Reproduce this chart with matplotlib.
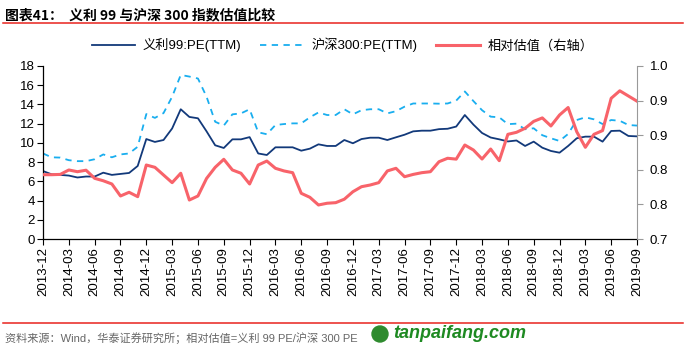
import matplotlib
matplotlib.use("Agg")
import matplotlib.pyplot as plt
from matplotlib.patches import Circle
from matplotlib.ticker import FormatStrFormatter
import numpy as np
import pandas as pd

# ------------------------------
# 数据 (月度, 2013-12 ~ 2019-09)
# ------------------------------
months = pd.date_range("2013-12-01", "2019-09-01", freq="MS").strftime("%Y-%m").tolist()

yili_pe = [7.07, 6.73, 6.67, 6.6, 6.4, 6.5, 6.5, 6.9, 6.67, 6.77,
           6.87, 7.6, 10.4, 10.1, 10.3, 11.5, 13.5, 12.7, 12.56, 11.2,
           9.75, 9.47, 10.37, 10.37, 10.6, 8.9, 8.74, 9.54, 9.54, 9.54,
           9.19, 9.4, 9.85, 9.68, 9.68, 10.3, 9.96, 10.4, 10.54, 10.54,
           10.3, 10.58, 10.85, 11.2, 11.27, 11.27, 11.43, 11.47, 11.7, 12.9,
           11.9, 11.03, 10.56, 10.37, 10.15, 10.25, 9.68, 10.13, 9.5, 9.16,
           8.98, 9.68, 10.48, 10.65, 10.65, 10.13, 11.24, 11.27, 10.72, 10.68]

hs300_pe = [8.9, 8.5, 8.47, 8.2, 8.1, 8.1, 8.3, 8.8, 8.5, 8.8,
            8.9, 9.6, 13.0, 12.6, 13.1, 14.8, 17.07, 16.9, 16.7, 14.8,
            12.2, 11.8, 12.97, 13.07, 13.5, 11.1, 10.9, 11.86, 11.96, 12.03,
            12.03, 12.66, 13.17, 12.9, 12.9, 13.5, 12.97, 13.4, 13.5, 13.5,
            13.07, 13.3, 13.77, 14.1, 14.1, 14.1, 14.08, 14.1, 14.4, 15.35,
            14.35, 13.4, 12.73, 12.66, 11.95, 12.0, 11.42, 11.52, 10.8, 10.48,
            10.2, 10.93, 12.38, 12.66, 12.45, 11.96, 12.38, 12.3, 11.86, 11.8]

relative_val = [0.8115, 0.8115, 0.812, 0.8197, 0.8167, 0.8193, 0.8052, 0.801, 0.7954, 0.7746,
                0.781, 0.7734, 0.8283, 0.8243, 0.811, 0.7977, 0.814, 0.7676, 0.7746, 0.805,
                0.8243, 0.8382, 0.8197, 0.814, 0.7954, 0.8283, 0.8352, 0.8226, 0.818, 0.815,
                0.7792, 0.7723, 0.759, 0.762, 0.763, 0.769, 0.782, 0.7907, 0.7936, 0.7977,
                0.818, 0.8226, 0.808, 0.812, 0.815, 0.8167, 0.834, 0.84, 0.8385, 0.863,
                0.8543, 0.8387, 0.856, 0.8358, 0.8815, 0.885, 0.892, 0.904, 0.91, 0.896,
                0.915, 0.928, 0.886, 0.859, 0.8815, 0.888, 0.944, 0.957, 0.948, 0.939]

plt.rcParams['font.family'] = ['Liberation Sans', 'Noto Sans CJK SC', 'DejaVu Sans']

W, H = 685, 354
fig = plt.figure(figsize=(W / 100, H / 100), dpi=100)
ax = fig.add_axes([43 / W, 1 - 239 / H, (637 - 43) / W, (239 - 66) / H])
ax2 = ax.twinx()

x = np.arange(len(months))
l1, = ax.plot(x, yili_pe, color='#12397A', lw=1.3, label='义利99:PE(TTM)')
l2, = ax.plot(x, hs300_pe, color='#19AEEF', lw=1.3, ls=(0, (3.5, 3)), label='沪深300:PE(TTM)')
l3, = ax2.plot(x, relative_val, color='#F8636A', lw=2.2, label='相对估值（右轴）')

# 左轴
ax.set_ylim(0, 18)
ax.set_yticks(range(0, 19, 2))
ax.set_xlim(0, len(months) - 1)
ax.set_xticks(x[::3])
ax.set_xticklabels(months[::3], rotation=90)
ax.tick_params(axis='both', labelsize=9.5, length=4, width=0.8, color='black', pad=2)
ax.spines['top'].set_visible(False)
ax.spines['right'].set_visible(False)
for s in ['left', 'bottom']:
    ax.spines[s].set_linewidth(0.9)

# 右轴
ax2.set_ylim(0.7, 1.0)
ax2.set_yticks(np.linspace(0.7, 1.0, 6))
ax2.yaxis.set_major_formatter(FormatStrFormatter('%.1f'))
ax2.tick_params(axis='y', labelsize=9.5, length=4, color='#999999', pad=5)
ax2.spines['top'].set_visible(False)
ax2.spines['left'].set_visible(False)
ax2.spines['bottom'].set_visible(False)
ax2.spines['right'].set_color('#999999')

fig.legend(handles=[l1, l2, l3], loc='center', bbox_to_anchor=(0.5, 1 - 45 / H),
           ncol=3, frameon=False, fontsize=9.5, handlelength=3.3,
           handletextpad=0.6, columnspacing=1.4)

# 标题与来源
fig.text(5 / W, 1 - 15 / H, '图表41：  义利 99 与沪深 300 指数估值比较', fontsize=10,
         fontweight='bold', family=['Noto Sans CJK SC', 'DejaVu Sans'], va='center', ha='left')
fig.add_artist(plt.Line2D([3 / W, 683 / W], [1 - 23 / H, 1 - 23 / H], color='#E8231E', lw=1.1))
fig.add_artist(plt.Line2D([3 / W, 683 / W], [1 - 323 / H, 1 - 323 / H], color='#E8231E', lw=1.1))
fig.text(5 / W, 1 - 338 / H, '资料来源：Wind，华泰证券研究所；相对估值=义利 99 PE/沪深 300 PE',
         fontsize=8, color='#666666', va='center', ha='left')

# 水印
fig.add_artist(Circle((380 / 100, (H - 334) / 100), 0.08, transform=fig.dpi_scale_trans,
                      color='#2E8B2E', zorder=5))
fig.text(393 / W, 1 - 333 / H, 'tanpaifang.com', fontsize=13, fontweight='bold',
         fontstyle='italic', color='#1E8A22', va='center', ha='left')

fig.savefig('out.png', dpi=100)
